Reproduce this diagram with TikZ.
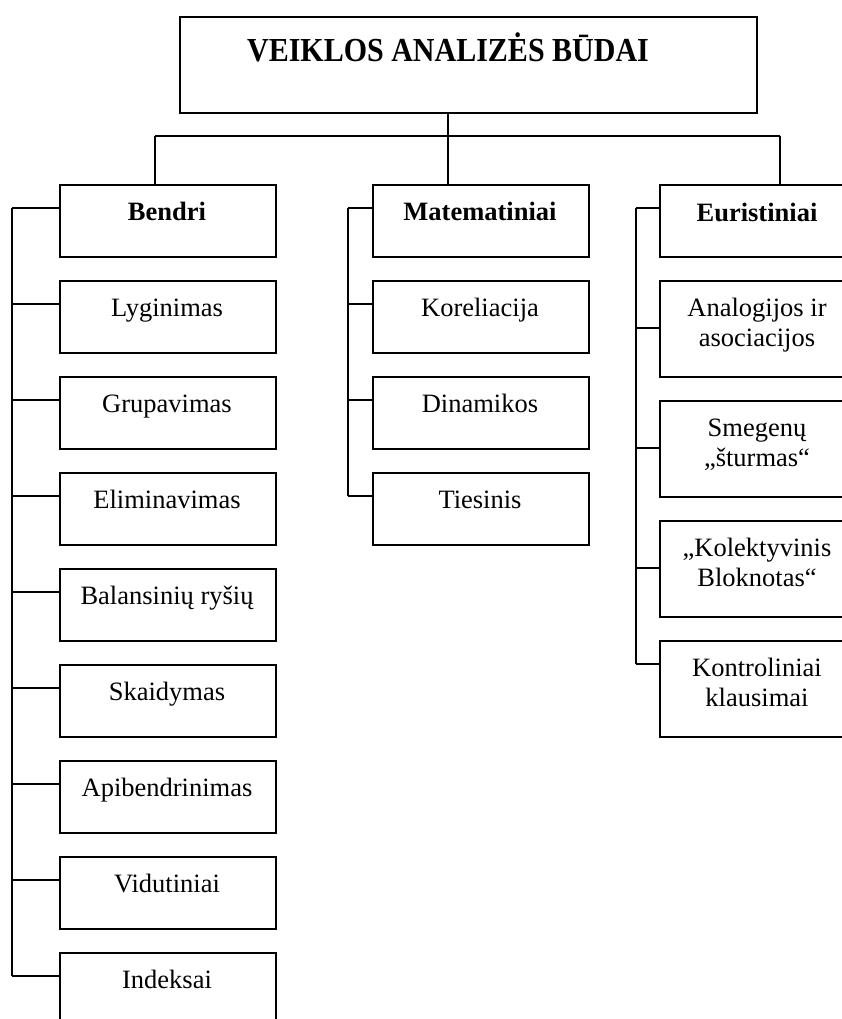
\documentclass[tikz,border=0pt]{standalone}
\usepackage{fontspec}
\setmainfont{Liberation Serif}
\usetikzlibrary{calc}
\begin{document}
\begin{tikzpicture}[x=1pt,y=-1pt,line width=1.8pt,
  box/.style={draw,rectangle,inner sep=0pt,minimum width=216pt,minimum height=72pt,anchor=north west,line width=1.8pt},
  tallbox/.style={box,minimum height=96pt},
  txt/.style={inner sep=0pt,anchor=base,align=center,font=\fontsize{26.5}{30}\selectfont},
  hd/.style={txt,font=\fontsize{26.5}{30}\selectfont\bfseries}]
\useasboundingbox (0,0) rectangle (842,1019);
\clip (0,0) rectangle (842,1019);
% title
\node[box,minimum width=577pt,minimum height=96pt] (title) at (179,16) {};
\node[inner sep=0pt,anchor=base,font=\fontsize{30}{34}\selectfont\bfseries] (titletext) at (448,62) {\scalebox{1}[1.12]{VEIKLOS ANALIZĖS BŪDAI}};
% Bendri column
\foreach \k in {0,...,8}{
  \node[box] (b\k) at (59,184+96*\k) {};
}
\node[hd] (b0t) at (167,220) {Bendri};
\foreach \k/\t in {1/Lyginimas,2/Grupavimas,3/Eliminavimas,4/Balansinių ryšių,5/Skaidymas,6/Apibendrinimas,7/Vidutiniai,8/Indeksai}{
  \node[txt] (b\k t) at (167,220+96*\k) {\t};
}
% Matematiniai column
\foreach \k in {0,1,2,3}{
  \node[box] (m\k) at (372,184+96*\k) {};
}
\node[hd] (m0t) at (480,220) {Matematiniai};
\foreach \k/\t in {1/Koreliacija,2/Dinamikos,3/Tiesinis}{
  \node[txt] (m\k t) at (480,220+96*\k) {\t};
}
% Euristiniai column
\node[box] (e0) at (659,184) {};
\node[tallbox] (e1) at (659,280) {};
\node[tallbox] (e2) at (659,400) {};
\node[tallbox] (e3) at (659,520) {};
\node[tallbox] (e4) at (659,640) {};
\node[hd] (e0t) at (757,221) {Euristiniai};
\node[txt] (e1t) at (757,346) {Analogijos ir\\asociacijos};
\node[txt] (e2t) at (757,466) {Smegenų\\„šturmas“};
\node[txt] (e3t) at (757,586) {„Kolektyvinis\\Bloknotas“};
\node[txt] (e4t) at (757,706) {Kontroliniai\\klausimai};
% top connectors
\coordinate (busL) at (155,136);
\coordinate (busM) at (448,136);
\coordinate (busR) at (780,136);
\draw (title.south -| busM) -- (busM);
\draw (busL) -- (busR);
\draw (busL) -- (busL |- b0.north);
\draw (busM) -- (busM |- m0.north);
\draw (busR) -- (busR |- e0.north);
% rails
\coordinate (railB) at (12,208);
\coordinate (railM) at (348,208);
\coordinate (railE) at (636,208);
\draw (railB) -- (12,976);
\draw (railM) -- (348,496);
\draw (railE) -- (636,664);
\foreach \k in {0,...,8}{
  \coordinate (bc\k) at ($(b\k.north west)+(0,24)$);
  \draw (bc\k) -- (bc\k -| railB);
}
\foreach \k in {0,...,3}{
  \coordinate (mc\k) at ($(m\k.north west)+(0,24)$);
  \draw (mc\k) -- (mc\k -| railM);
}
\foreach \k/\d in {0/24,1/48,2/48,3/48,4/24}{
  \coordinate (ec\k) at ($(e\k.north west)+(0,\d)$);
  \draw (ec\k) -- (ec\k -| railE);
}
\end{tikzpicture}
\end{document}
